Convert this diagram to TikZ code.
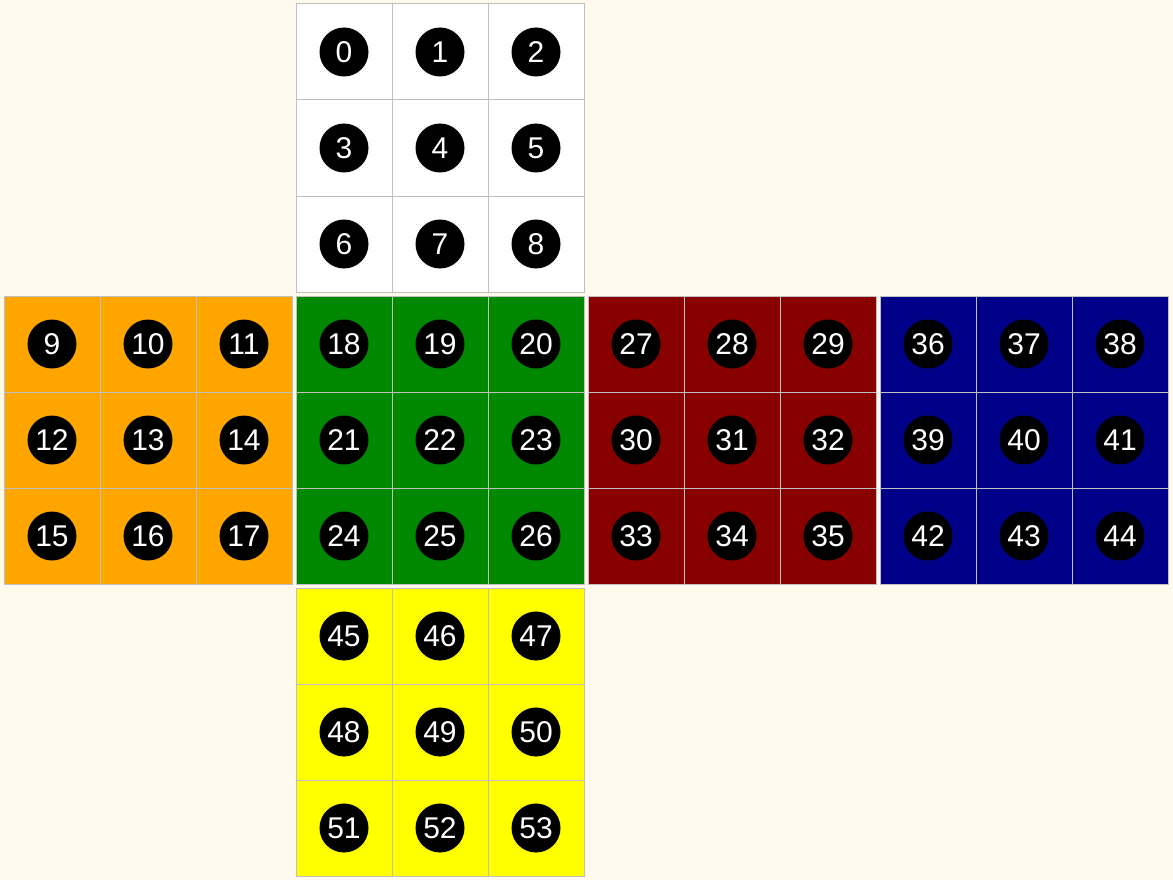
\documentclass[tikz,border=0pt]{standalone}
\usepackage{fontspec}
\setmainfont{Liberation Sans}
\definecolor{bg}{HTML}{FFF9EE}
\definecolor{fU}{HTML}{FFFFFF}
\definecolor{fL}{HTML}{FFA500}
\definecolor{fF}{HTML}{008800}
\definecolor{fR}{HTML}{880000}
\definecolor{fB}{HTML}{000088}
\definecolor{fD}{HTML}{FFFF00}
\definecolor{gridc}{HTML}{C0C0C0}
\tikzset{
  cell/.style={draw=gridc, line width=1pt, minimum size=96pt, inner sep=0pt, outer sep=0pt},
  dot/.style={circle, fill=black, minimum size=49pt, inner sep=0pt, text=white, font=\fontsize{30}{30}\selectfont}
}
\begin{document}
\begin{tikzpicture}[x=1pt,y=-1pt]
\fill[bg] (0,0) rectangle (1173,880);
\useasboundingbox (0,0) rectangle (1173,880);
\foreach \fx/\fy/\col/\base in {296/4/fU/0, 4/296/fL/9, 296/296/fF/18, 588/296/fR/27, 880/296/fB/36, 296/588/fD/45}{
  \foreach \r in {0,1,2}{
    \foreach \c in {0,1,2}{
      \pgfmathtruncatemacro{\n}{\base+3*\r+\c}
      \node[cell, fill=\col] (s\n) at (\fx+48+96*\c, \fy+48+96*\r) {};
      \node[dot] (c\n) at (s\n.center) {\n};
    }
  }
}
\end{tikzpicture}
\end{document}
